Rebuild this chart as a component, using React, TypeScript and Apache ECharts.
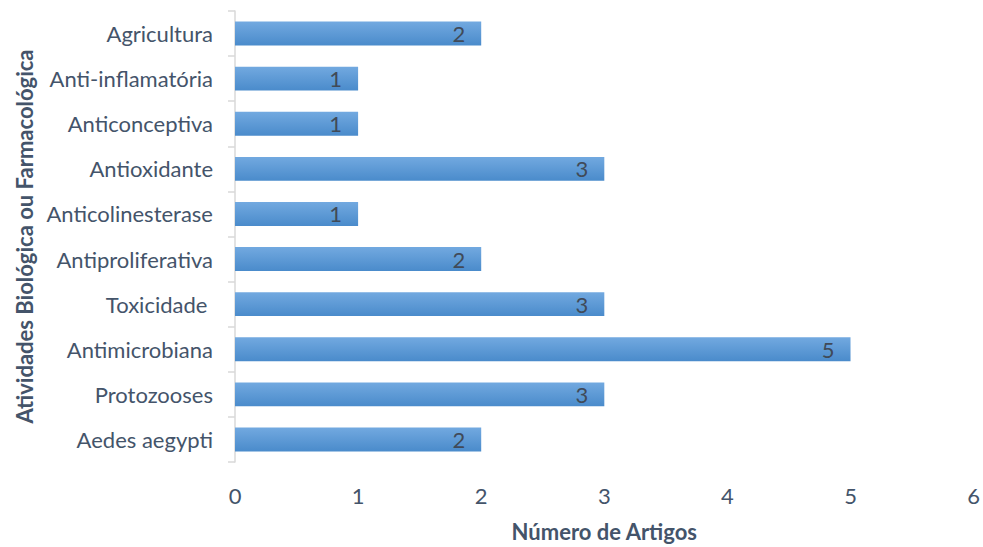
import React, { useEffect, useRef } from "react";
import * as echarts from "echarts";

const categories = [
  "Agricultura",
  "Anti-inflamatória",
  "Anticonceptiva",
  "Antioxidante",
  "Anticolinesterase",
  "Antiproliferativa",
  "Toxicidade ",
  "Antimicrobiana",
  "Protozooses",
  "Aedes aegypti",
];
const values = [2, 1, 1, 3, 1, 2, 3, 5, 3, 2];
const xTicks = [0, 1, 2, 3, 4, 5, 6];

const FONT = "Lato";
const TXT = "#44546a";
const FS = 22;

export default function App() {
  const ref = useRef<HTMLDivElement>(null);
  useEffect(() => {
    if (!ref.current) return;
    const chart = echarts.init(ref.current, undefined, { renderer: "svg" });
    chart.setOption({
      animation: false,
      backgroundColor: "#ffffff",
      grid: { left: 235, right: 5, top: 11, bottom: 82, containLabel: false },
      xAxis: {
        type: "value",
        min: xTicks[0],
        max: xTicks[xTicks.length - 1],
        interval: 1,
        name: "Número de Artigos",
        nameLocation: "middle",
        nameGap: 58,
        nameTextStyle: { fontFamily: FONT, fontSize: FS, fontWeight: "bold", color: TXT },
        axisLine: { show: false },
        axisTick: { show: false },
        splitLine: { show: false },
        axisLabel: { fontFamily: FONT, fontSize: FS, color: TXT, margin: 22 },
      },
      yAxis: {
        type: "category",
        data: categories,
        inverse: true,
        name: "Atividades Biológica ou Farmacológica",
        nameLocation: "middle",
        nameGap: 197,
        nameRotate: 90,
        nameTextStyle: { fontFamily: FONT, fontSize: FS, fontWeight: "bold", color: TXT },
        axisLine: { show: true, lineStyle: { color: "#d9d9d9", width: 1.5 } },
        axisTick: { show: true, length: 7, lineStyle: { color: "#d9d9d9", width: 1.5 } },
        axisLabel: { fontFamily: FONT, fontSize: FS, color: TXT, margin: 22 },
        splitLine: { show: false },
      },
      series: [
        {
          type: "bar",
          data: values,
          barWidth: "53%",
          itemStyle: {
            color: new echarts.graphic.LinearGradient(0, 0, 0, 1, [
              { offset: 0, color: "#72a9e0" },
              { offset: 1, color: "#4a8bcb" },
            ]),
          },
          label: {
            show: true,
            position: "insideRight",
            distance: 16,
            fontFamily: FONT,
            fontSize: FS,
            color: "#404a58",
          },
        },
      ],
    });
    return () => chart.dispose();
  }, []);
  return (
    <div
      ref={ref}
      style={{ position: "fixed", left: 0, top: 0, width: 983, height: 547 }}
    />
  );
}
